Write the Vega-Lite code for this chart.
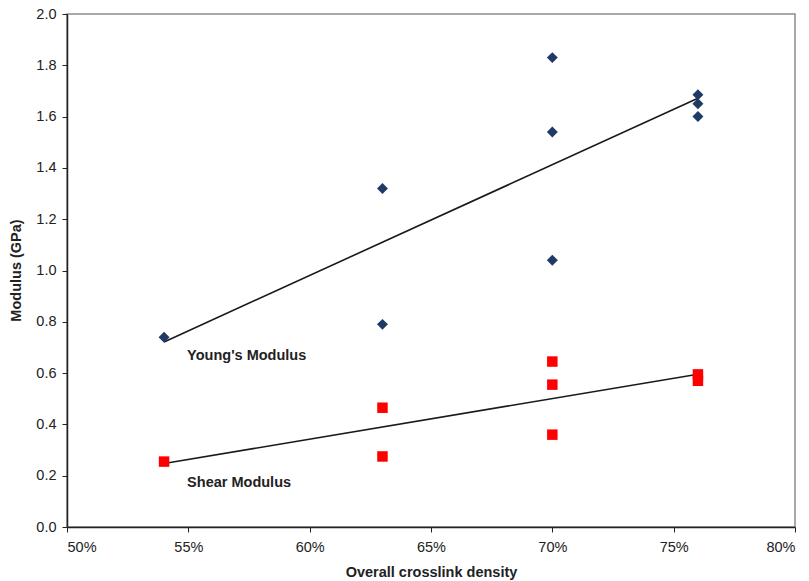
{
  "$schema": "https://vega.github.io/schema/vega-lite/v6.json",
  "width": 728,
  "height": 513,
  "autosize": {"type": "none"},
  "padding": {"left": 67, "top": 14, "right": 14, "bottom": 54},
  "background": "white",
  "config": {
    "view": {"stroke": "#8c8c8c", "strokeWidth": 1.5},
    "font": "Liberation Sans",
    "axis": {
      "grid": false,
      "domainColor": "#222222",
      "domainWidth": 1.5,
      "tickColor": "#222222",
      "tickSize": 5,
      "labelFont": "Liberation Sans",
      "labelFontSize": 14.5,
      "labelColor": "#222222",
      "titleFont": "Liberation Sans",
      "titleFontSize": 14.5,
      "titleFontWeight": "bold",
      "titleColor": "#222222"
    }
  },
  "datasets": {
    "points": [
      {"density": 0.54, "modulus": 0.74, "type": "Young's Modulus"},
      {"density": 0.63, "modulus": 1.32, "type": "Young's Modulus"},
      {"density": 0.63, "modulus": 0.79, "type": "Young's Modulus"},
      {"density": 0.70, "modulus": 1.83, "type": "Young's Modulus"},
      {"density": 0.70, "modulus": 1.54, "type": "Young's Modulus"},
      {"density": 0.70, "modulus": 1.04, "type": "Young's Modulus"},
      {"density": 0.76, "modulus": 1.685, "type": "Young's Modulus"},
      {"density": 0.76, "modulus": 1.65, "type": "Young's Modulus"},
      {"density": 0.76, "modulus": 1.60, "type": "Young's Modulus"},
      {"density": 0.54, "modulus": 0.255, "type": "Shear Modulus"},
      {"density": 0.63, "modulus": 0.465, "type": "Shear Modulus"},
      {"density": 0.63, "modulus": 0.275, "type": "Shear Modulus"},
      {"density": 0.70, "modulus": 0.645, "type": "Shear Modulus"},
      {"density": 0.70, "modulus": 0.555, "type": "Shear Modulus"},
      {"density": 0.70, "modulus": 0.36, "type": "Shear Modulus"},
      {"density": 0.76, "modulus": 0.595, "type": "Shear Modulus"},
      {"density": 0.76, "modulus": 0.57, "type": "Shear Modulus"}
    ],
    "labels": [
      {"density": 0.5495, "modulus": 0.667, "label": "Young's Modulus"},
      {"density": 0.5495, "modulus": 0.172, "label": "Shear Modulus"}
    ]
  },
  "layer": [
    {
      "data": {"name": "points"},
      "transform": [
        {"regression": "modulus", "on": "density", "groupby": ["type"], "method": "linear", "extent": [0.54, 0.76]}
      ],
      "mark": {"type": "line", "color": "#1a1a1a", "strokeWidth": 1.6},
      "encoding": {
        "x": {"field": "density", "type": "quantitative", "scale": {"domain": [0.5, 0.8], "nice": false}, "axis": {"format": ".0%", "values": [0.5, 0.55, 0.6, 0.65, 0.7, 0.75, 0.8], "title": "Overall crosslink density", "labelPadding": 8, "titleY": 45, "titleBaseline": "middle"}},
        "y": {"field": "modulus", "type": "quantitative", "scale": {"domain": [0, 2], "nice": false}, "axis": {"format": ".1f", "values": [0, 0.2, 0.4, 0.6, 0.8, 1.0, 1.2, 1.4, 1.6, 1.8, 2.0], "title": "Modulus (GPa)", "labelPadding": 6, "titleX": -51, "titleY": 256, "titleAngle": -90, "titleAlign": "center", "titleBaseline": "middle"}},
        "detail": {"field": "type"}
      }
    },
    {
      "data": {"name": "points"},
      "transform": [{"filter": "datum.type === \"Young's Modulus\""}],
      "mark": {"type": "point", "shape": "diamond", "filled": true, "size": 120, "color": "#1f3a66", "opacity": 1},
      "encoding": {
        "x": {"field": "density", "type": "quantitative"},
        "y": {"field": "modulus", "type": "quantitative"}
      }
    },
    {
      "data": {"name": "points"},
      "transform": [{"filter": "datum.type === 'Shear Modulus'"}],
      "mark": {"type": "point", "shape": "square", "filled": true, "size": 110, "color": "#ff0000", "opacity": 1},
      "encoding": {
        "x": {"field": "density", "type": "quantitative"},
        "y": {"field": "modulus", "type": "quantitative"}
      }
    },
    {
      "data": {"name": "labels"},
      "mark": {"type": "text", "align": "left", "baseline": "middle", "fontWeight": "bold", "fontSize": 14.5, "color": "#222222", "font": "Liberation Sans"},
      "encoding": {
        "x": {"field": "density", "type": "quantitative"},
        "y": {"field": "modulus", "type": "quantitative"},
        "text": {"field": "label"}
      }
    }
  ]
}
